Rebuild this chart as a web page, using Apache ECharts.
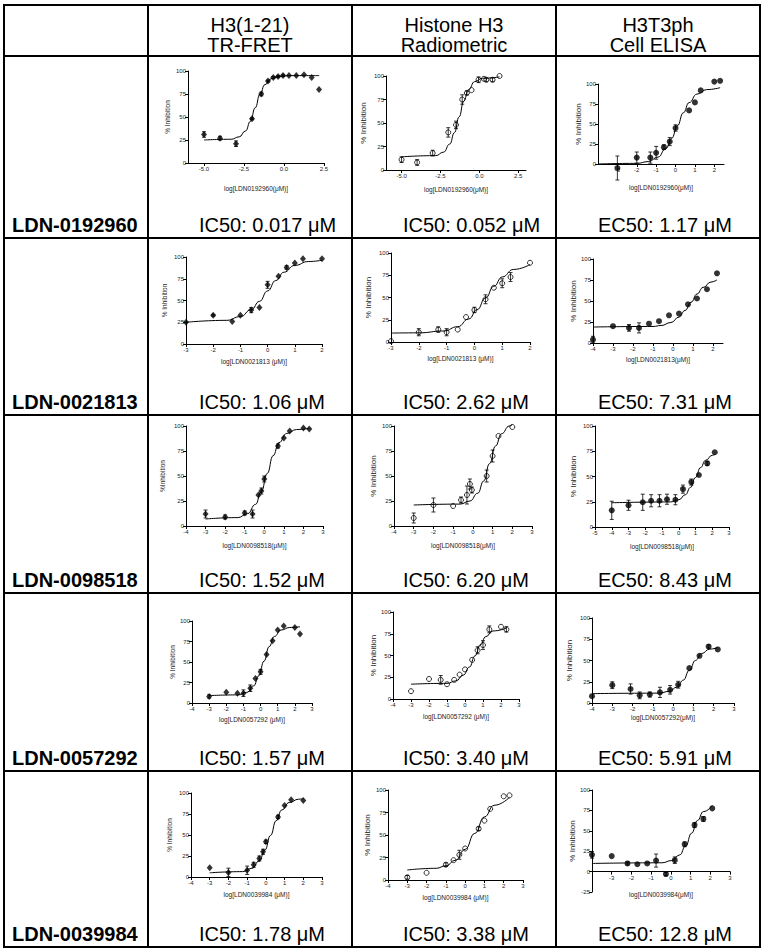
<!DOCTYPE html>
<html>
<head>
<meta charset="utf-8">
<title>Dose-response panels</title>
<script src="https://cdn.jsdelivr.net/npm/echarts@6/dist/echarts.min.js"></script>
<style>
  html, body { margin: 0; padding: 0; background: #fff; }
  #chart { width: 764px; height: 952px; }
</style>
</head>
<body>
<div id="chart"></div>
<script>
// ---- text ----
const compounds = ['LDN-0192960', 'LDN-0021813', 'LDN-0098518', 'LDN-0057292', 'LDN-0039984'];
const assayHeaders = [['H3(1-21)', 'TR-FRET'], ['Histone H3', 'Radiometric'], ['H3T3ph', 'Cell ELISA']];
const potencyLabels = [
  ['IC50: 0.017 μM', 'IC50: 0.052 μM', 'EC50: 1.17 μM'],
  ['IC50: 1.06 μM', 'IC50: 2.62 μM', 'EC50: 7.31 μM'],
  ['IC50: 1.52 μM', 'IC50: 6.20 μM', 'EC50: 8.43 μM'],
  ['IC50: 1.57 μM', 'IC50: 3.40 μM', 'EC50: 5.91 μM'],
  ['IC50: 1.78 μM', 'IC50: 3.38 μM', 'EC50: 12.8 μM']
];
const xTitles = [
  ['log[LDN0192960(μM)]', 'log[LDN0192960(μM)]', 'log[LDN0192960(μM)]'],
  ['log[LDN0021813 (μM)]', 'log[LDN0021813 (μM)]', 'log[LDN0021813(μM)]'],
  ['log[LDN0098518(μM)]', 'log[LDN0098518(μM)]', 'log[LDN0098518(μM)]'],
  ['log[LDN0057292 (μM)]', 'log[LDN0057292 (μM)]', 'log[LDN0057292(μM)]'],
  ['log[LDN0039984 (μM)]', 'log[LDN0039984 (μM)]', 'log[LDN0039984(μM)]']
];
const yTitles = [
  ['% Inhibition', '% Inhibition', '% Inhibition'],
  ['% Inhibition', '% Inhibition', '% Inhibition'],
  ['%Inhibition', '% Inhibition', '% Inhibition'],
  ['% Inhibition', '% Inhibition', '% Inhibition'],
  ['% Inhibition', '% Inhibition', '% Inhibition']
];

// ---- tick labels ----
const halfTicks = [-5, -2.5, 0, 2.5];
const ticksM3to2 = [-3, -2, -1, 0, 1, 2];
const ticksM4to2 = [-4, -3, -2, -1, 0, 1, 2];
const ticksM3to3 = [-3, -2, -1, 0, 1, 2, 3];
const ticksM4to3 = [-4, -3, -2, -1, 0, 1, 2, 3];
const ticksM5to3 = [-5, -4, -3, -2, -1, 0, 1, 2, 3];

// ---- measured points: [log conc, % inhibition, error] ----
const fret0192960 = [[-5, 31, 3], [-4, 27, 2], [-3, 21, 3], [-2, 48, 1], [-1.42, 75, 2], [-1, 89, 1], [-0.67, 93, 1], [-0.37, 94, 1], [-0.06, 95, 1], [0.31, 95, 0], [0.77, 95, 0], [1.25, 96, 0], [1.73, 93, 0], [2.19, 80, 0]];
const radio0192960 = [[-5, 11, 3], [-4, 8, 3], [-3, 18, 3], [-2, 40, 5], [-1.5, 48, 4], [-1.1, 75, 5], [-0.8, 82, 2], [-0.5, 85, 0], [-0.05, 96, 3], [0.3, 97, 0], [0.45, 96, 2], [0.85, 96, 2], [1.3, 100, 0]];
const cell0192960 = [[-3, -5, 15], [-2, 8, 7], [-1.3, 8, 7], [-1, 14, 8], [-0.6, 21, 3], [-0.3, 28, 5], [0, 45, 4], [0.7, 67, 0], [1, 77, 0], [1.3, 92, 0], [2, 103, 0], [2.3, 104, 0]];

const fret0021813 = [[-3, 25, 0], [-2, 33, 1], [-1.3, 26, 0], [-1, 33, 0], [-0.6, 39, 3], [-0.3, 42, 0], [0, 68, 4], [0.4, 78, 0], [0.7, 88, 2], [1, 93, 0], [1.3, 98, 0], [2, 98, 0]];
const radio0021813 = [[-3, 1, 0], [-2, 11, 4], [-1.3, 14, 3], [-1, 11, 4], [-0.6, 14, 0], [-0.3, 28, 0], [0, 36, 3], [0.4, 48, 5], [0.7, 61, 0], [1, 66, 5], [1.3, 73, 5], [2, 89, 0]];
const cell0021813 = [[-4, 4, 4], [-3, 20, 0], [-2.2, 18, 4], [-1.7, 18, 6], [-1.2, 23, 0], [-0.7, 26, 0], [-0.2, 33, 0], [0.3, 35, 0], [0.75, 46, 0], [1.2, 53, 0], [1.7, 64, 0], [2.2, 83, 0]];

const fret0098518 = [[-3, 12, 4], [-2, 9, 2], [-1, 13, 2], [-0.6, 12, 4], [-0.3, 31, 0], [-0.15, 35, 3], [0, 47, 3], [0.7, 80, 2], [1, 88, 0], [1.3, 95, 0], [2, 98, 0], [2.3, 97, 0]];
const radio0098518 = [[-3, 8, 5], [-2, 21, 7], [-1, 20, 0], [-0.6, 26, 3], [-0.3, 31, 9], [-0.15, 42, 5], [-0.05, 36, 3], [0.7, 50, 6], [1, 70, 6], [1.3, 90, 0], [2, 99, 0]];
const cell0098518 = [[-4, 16.5, 9], [-3, 21.5, 5], [-2.15, 24.5, 8], [-1.65, 26, 6], [-1.15, 26, 6], [-0.7, 27.5, 5], [-0.2, 27, 5], [0.25, 37.5, 4], [0.75, 44.5, 3], [1.2, 51.5, 0], [1.7, 63, 2], [2.15, 74, 0]];

const fret0057292 = [[-3, 8, 2], [-2, 13, 0], [-1.35, 12, 0], [-1, 12, 4], [-0.6, 18, 4], [-0.3, 30, 0], [0, 38, 3], [0.35, 59, 0], [0.7, 76, 0], [1, 89, 0], [1.35, 94, 0], [2, 92, 0], [2.3, 84, 0]];
const radio0057292 = [[-3, 9, 0], [-2, 23, 0], [-1.35, 22, 5], [-1, 17, 0], [-0.6, 22, 0], [-0.3, 28, 0], [0, 34, 0], [0.4, 45, 0], [0.7, 56, 4], [1, 62, 5], [1.35, 80, 4], [2, 83, 0], [2.3, 80, 3]];
const cell0057292 = [[-4, 8, 0], [-3, 21, 4], [-2.1, 16.5, 6], [-1.65, 9, 4], [-1.15, 10, 3], [-0.65, 12.5, 6], [-0.15, 15.5, 5], [0.25, 21.5, 4], [0.8, 41, 0], [1.3, 55.5, 0], [1.75, 66.5, 2], [2.2, 63, 0]];

const fret0039984 = [[-3, 11, 0], [-2, 5.5, 5], [-1, 8, 5], [-0.65, 14.5, 3], [-0.35, 22, 3], [-0.15, 30, 3], [0, 42, 2], [0.65, 71.5, 2], [1, 85, 0], [1.35, 92, 0], [2, 91, 0]];
const radio0039984 = [[-3, 3, 2], [-2, 8, 0], [-1, 17, 2], [-0.6, 22, 0], [-0.3, 28, 5], [0, 35, 0], [0.7, 57, 2], [1, 66, 0], [1.3, 79, 0], [2, 93, 0], [2.3, 94, 0]];
const cell0039984 = [[-4, 20.5, 4], [-3, 19, 0], [-2.2, 10, 2], [-1.7, 9, 0], [-1.2, 10, 0], [-0.75, 13.5, 8], [-0.25, -3, 2], [0.2, 14, 4], [0.7, 33.5, 3], [1.2, 57, 3], [1.65, 64.5, 3], [2.1, 77.5, 0]];

// ---- fitted curves: [log conc, % inhibition] ----
const fretFit0192960 = [[-5, 25], [-3.3, 25.8], [-2.8, 28.4], [-2.4, 34.9], [-2.1, 45.2], [-1.8, 60], [-1.5, 74.8], [-1.2, 85.1], [-0.8, 91.6], [-0.3, 94.2], [0.5, 95], [2.2, 95]];
const radioFit0192960 = [[-5, 14], [-2.8, 15.3], [-2.3, 19], [-1.9, 27.6], [-1.6, 39.8], [-1.3, 56.5], [-1, 73.2], [-0.7, 85.4], [-0.3, 94], [0.2, 97.6], [1.3, 99]];
const cellFit0192960 = [[-4, 0], [-2, 0.8], [-1.4, 3], [-0.9, 8.7], [-0.5, 19.3], [-0.2, 32.1], [0.1, 48], [0.4, 64], [0.7, 76.7], [1.1, 87.3], [1.6, 93], [2.3, 95.4]];

const fretFit0021813 = [[-3, 25], [-1.5, 27.2], [-1, 31.5], [-0.6, 39.5], [-0.3, 49], [0, 61], [0.3, 73], [0.6, 82.5], [1, 90.4], [1.5, 94.8], [2, 96.3]];
const radioFit0021813 = [[-3, 10], [-2, 10.3], [-1.1, 12.4], [-0.6, 17.2], [-0.2, 25.9], [0.1, 36.4], [0.4, 49.5], [0.7, 62.6], [1, 73.1], [1.4, 81.5], [2, 87]];
const cellFit0021813 = [[-4, 19], [-1, 19.7], [-0.6, 20.8], [-0.1, 24.4], [0.3, 30.9], [0.6, 38.7], [0.9, 48.5], [1.2, 58.3], [1.5, 66.1], [1.9, 72.6], [2.2, 75.2]];

const fretFit0098518 = [[-3, 7], [-1.35, 8.4], [-0.85, 12.4], [-0.45, 21.6], [-0.15, 34.7], [0.15, 52.5], [0.45, 70.3], [0.75, 83.4], [1.15, 92.6], [1.65, 96.5], [2.3, 97.7]];
const radioFit0098518 = [[-3, 21], [-0.65, 21.9], [-0.15, 25], [0.25, 32.8], [0.55, 45], [0.85, 62.5], [1.15, 80], [1.45, 92.2], [1.85, 100], [2, 101.4]];
const cellFit0098518 = [[-4, 24], [-0.5, 24.8], [0, 27], [0.4, 32], [0.7, 39.2], [1, 49], [1.3, 58.8], [1.6, 66], [2, 71], [2.2, 72.3]];

const fretFit0057292 = [[-3, 9], [-1.3, 9.9], [-0.8, 13], [-0.4, 20.9], [-0.1, 33.3], [0.2, 51], [0.5, 68.7], [0.8, 81.1], [1.2, 89], [1.7, 92.1], [2.3, 93]];
const radioFit0057292 = [[-3, 17], [-1, 18], [-0.5, 20.8], [-0.1, 27.4], [0.25, 36.8], [0.55, 49.5], [0.85, 62.2], [1.15, 71.6], [1.55, 78.2], [2.3, 81.5]];
const cellFit0057292 = [[-4, 11], [-0.7, 11.6], [-0.2, 13.6], [0.2, 18.8], [0.5, 26.9], [0.8, 38.5], [1.1, 50.1], [1.4, 58.2], [1.8, 63.4], [2.2, 65.2]];

const fretFit0039984 = [[-3, 5], [-1.25, 6.4], [-0.75, 10.3], [-0.35, 19.2], [-0.05, 32], [0.25, 49.5], [0.55, 67], [0.85, 79.8], [1.25, 88.7], [1.75, 92.6], [2, 93.3]];
const radioFit0039984 = [[-3, 11.1], [-1.5, 13], [-1, 15.8], [-0.5, 22], [0, 34.1], [0.5, 51.8], [1, 70.1], [1.5, 83], [2.3, 91.9]];
const cellFit0039984 = [[-4, 10], [-0.45, 10.8], [0.05, 13.6], [0.45, 20.5], [0.75, 31.4], [1.05, 47], [1.35, 62.6], [1.65, 73.5], [2.1, 81]];

const pointSets = [
  [fret0192960, radio0192960, cell0192960],
  [fret0021813, radio0021813, cell0021813],
  [fret0098518, radio0098518, cell0098518],
  [fret0057292, radio0057292, cell0057292],
  [fret0039984, radio0039984, cell0039984]
];
const fitSets = [
  [fretFit0192960, radioFit0192960, cellFit0192960],
  [fretFit0021813, radioFit0021813, cellFit0021813],
  [fretFit0098518, radioFit0098518, cellFit0098518],
  [fretFit0057292, radioFit0057292, cellFit0057292],
  [fretFit0039984, radioFit0039984, cellFit0039984]
];

// ---- layout (px) ----
const colX = [4, 148, 352, 556, 760];
const rowY = [5, 56, 238, 415, 593, 771, 947];
const FONT = '"Liberation Sans", Arial, Helvetica, sans-serif';

// box: [left, top, width, height] of each plot area
const panelLayout = [
  [
    { box: [188, 71, 136, 92], x: [-6, 2.5], ticks: halfTicks, dec: 1, xGap: 22, yGap: 17 },
    { box: [386, 76, 140, 94], x: [-6, 3], ticks: halfTicks, dec: 1, xGap: 16, yGap: 19 },
    { box: [598, 84, 126, 80], x: [-4, 2.5], ticks: ticksM3to2, dec: 0, xGap: 20, yGap: 14 }
  ],
  [
    { box: [186, 257, 136, 87], x: [-3, 2], ticks: ticksM3to2, dec: 0, xGap: 14, yGap: 18 },
    { box: [391, 253, 139, 89], x: [-3, 2], ticks: ticksM3to2, dec: 0, xGap: 13, yGap: 19 },
    { box: [593, 259, 130, 84], x: [-4, 2.5], ticks: ticksM4to2, dec: 0, xGap: 13, yGap: 16 }
  ],
  [
    { box: [186, 426, 137, 100], x: [-4, 3], ticks: ticksM4to3, dec: 0, xGap: 16, yGap: 20 },
    { box: [394, 426, 138, 100], x: [-4, 3], ticks: ticksM4to3, dec: 0, xGap: 16, yGap: 17 },
    { box: [595, 426, 134, 101], x: [-5, 3], ticks: ticksM5to3, dec: 0, xGap: 16, yGap: 18 }
  ],
  [
    { box: [192, 621, 120, 82], x: [-4, 3], ticks: ticksM4to3, dec: 0, xGap: 13, yGap: 16 },
    { box: [393, 612, 126, 87], x: [-4, 3], ticks: ticksM4to3, dec: 0, xGap: 14, yGap: 16 },
    { box: [592, 618, 142, 85], x: [-4, 3], ticks: ticksM4to3, dec: 0, xGap: 11, yGap: 19 }
  ],
  [
    { box: [191, 793, 131, 84], x: [-4, 3], ticks: ticksM4to3, dec: 0, xGap: 14, yGap: 18 },
    { box: [388, 790, 135, 90], x: [-4, 3], ticks: ticksM4to3, dec: 0, xGap: 14, yGap: 17 },
    { box: [592, 790, 138, 102], x: [-4, 3], ticks: ticksM3to3, dec: 0, xGap: 19, yGap: 14, yMin: -25 }
  ]
];

const markerStyles = [
  { symbol: 'diamond', symbolSize: [6, 7], itemStyle: { color: '#000' } },
  { symbol: 'circle', symbolSize: 5, itemStyle: { color: 'rgba(0,0,0,0)', borderColor: '#000', borderWidth: 1 } },
  { symbol: 'circle', symbolSize: 6, itemStyle: { color: '#000' } }
];
const yTitleSize = [6.5, 8, 8];

const grids = [], xAxes = [], yAxes = [], series = [];

function errorBarItem(params, api) {
  const x = api.value(0), y = api.value(1), e = api.value(2);
  const hi = api.coord([x, y + e]);
  const lo = api.coord([x, y - e]);
  const cap = 2;
  const st = { stroke: '#000', lineWidth: 0.8 };
  return {
    type: 'group',
    children: [
      { type: 'line', shape: { x1: hi[0], y1: hi[1], x2: lo[0], y2: lo[1] }, style: st },
      { type: 'line', shape: { x1: hi[0] - cap, y1: hi[1], x2: hi[0] + cap, y2: hi[1] }, style: st },
      { type: 'line', shape: { x1: lo[0] - cap, y1: lo[1], x2: lo[0] + cap, y2: lo[1] }, style: st }
    ]
  };
}

let idx = 0;
panelLayout.forEach((row, r) => {
  row.forEach((p, c) => {
    const [left, top, width, height] = p.box;
    const yMin = p.yMin !== undefined ? p.yMin : 0;
    // x axis sits on y = 0; lift it when the y range dips below zero
    const xOffset = -height * (0 - yMin) / (100 - yMin);
    grids.push({ left, top, width, height, containLabel: false, outerBoundsMode: 'none' });
    const axisLine = { lineStyle: { color: '#000', width: 1 } };
    const tickStyle = { color: '#000', width: 1 };
    xAxes.push({
      gridIndex: idx,
      type: 'value',
      position: 'bottom',
      offset: xOffset,
      min: p.x[0],
      max: p.x[1],
      axisLine: Object.assign({ onZero: false }, axisLine),
      axisTick: { show: true, length: 3, customValues: p.ticks, lineStyle: tickStyle },
      axisLabel: {
        customValues: p.ticks,
        formatter: v => p.dec ? Number(v).toFixed(p.dec) : String(v),
        fontSize: 6, color: '#222', margin: 3, fontFamily: FONT
      },
      splitLine: { show: false },
      name: xTitles[r][c],
      nameLocation: 'middle',
      nameGap: p.xGap,
      nameTextStyle: { fontSize: 6.5, color: '#222', fontFamily: FONT }
    });
    yAxes.push({
      gridIndex: idx,
      type: 'value',
      min: yMin,
      max: 100,
      interval: 25,
      axisLine: Object.assign({ show: true, onZero: false }, axisLine),
      axisTick: { show: true, length: 3, lineStyle: tickStyle },
      axisLabel: { fontSize: 6, color: '#222', margin: 2, fontFamily: FONT },
      splitLine: { show: false },
      name: yTitles[r][c],
      nameLocation: 'middle',
      nameGap: p.yGap,
      nameRotate: 90,
      nameTextStyle: { fontSize: yTitleSize[c], color: '#222', fontFamily: FONT }
    });

    const pts = pointSets[r][c];
    series.push({
      type: 'line',
      xAxisIndex: idx, yAxisIndex: idx,
      data: fitSets[r][c],
      showSymbol: false,
      smooth: 0.5,
      smoothMonotone: 'x',
      clip: false,
      silent: true,
      lineStyle: { color: '#000', width: 1 }
    });
    series.push({
      type: 'custom',
      xAxisIndex: idx, yAxisIndex: idx,
      coordinateSystem: 'cartesian2d',
      data: pts.filter(d => d[2] > 0),
      encode: { x: 0, y: 1 },
      renderItem: errorBarItem,
      clip: false,
      silent: true,
      z: 3
    });
    series.push(Object.assign({
      type: 'scatter',
      xAxisIndex: idx, yAxisIndex: idx,
      data: pts.map(d => [d[0], d[1]]),
      clip: false,
      silent: true,
      z: 4
    }, markerStyles[c]));
    idx++;
  });
});

// ---- table frame and cell text ----
const graphics = [];
colX.forEach(x => graphics.push({
  type: 'line', shape: { x1: x, y1: rowY[0], x2: x, y2: rowY[rowY.length - 1] },
  style: { stroke: '#000', lineWidth: 2 }
}));
rowY.forEach(y => graphics.push({
  type: 'line', shape: { x1: colX[0] - 1, y1: y, x2: colX[colX.length - 1] + 1, y2: y },
  style: { stroke: '#000', lineWidth: 2 }
}));
assayHeaders.forEach((lines, c) => {
  const cx = (colX[c + 1] + colX[c + 2]) / 2;
  lines.forEach((t, k) => graphics.push({
    type: 'text', x: cx, y: 25 + k * 20,
    style: { text: t, font: '20px ' + FONT, fill: '#000', align: 'center', verticalAlign: 'middle', textAlign: 'center', textVerticalAlign: 'middle' }
  }));
});
const potencyX = [199, 403, 598];
compounds.forEach((name, r) => {
  const cy = rowY[r + 2] - 13;
  graphics.push({
    type: 'text', x: 12, y: cy,
    style: { text: name, font: 'bold 20px ' + FONT, fill: '#000', align: 'left', verticalAlign: 'middle', textAlign: 'left', textVerticalAlign: 'middle' }
  });
  potencyLabels[r].forEach((t, c) => graphics.push({
    type: 'text', x: potencyX[c], y: cy,
    style: { text: t, font: '20px ' + FONT, fill: '#000', align: 'left', verticalAlign: 'middle', textAlign: 'left', textVerticalAlign: 'middle' }
  }));
});

const chart = echarts.init(document.getElementById('chart'), null, { renderer: 'svg' });
chart.setOption({
  animation: false,
  backgroundColor: '#fff',
  grid: grids,
  xAxis: xAxes,
  yAxis: yAxes,
  series,
  graphic: { elements: graphics }
});
</script>
</body>
</html>
